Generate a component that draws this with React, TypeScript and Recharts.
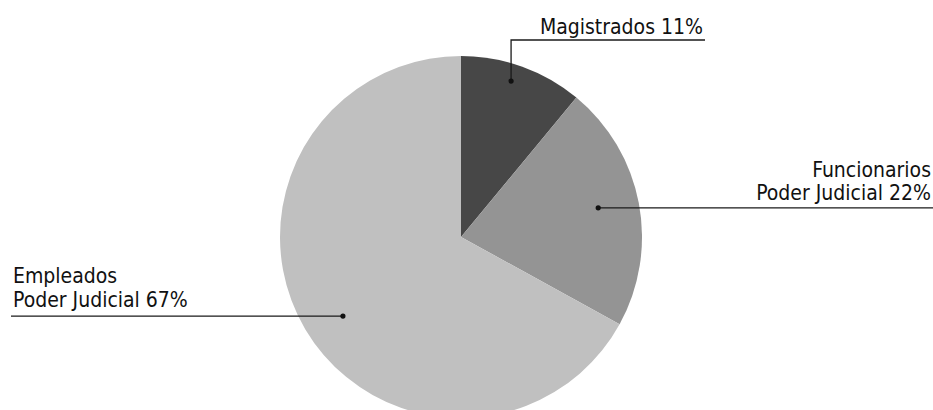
import React from "react";
import { PieChart, Pie, Cell } from "recharts";

const categories = ["Magistrados", "Funcionarios Poder Judicial", "Empleados Poder Judicial"];
const labelLines = [["Magistrados"], ["Funcionarios", "Poder Judicial"], ["Empleados", "Poder Judicial"]];
const shares = [11, 22, 67];

const colors = ["#474747", "#949494", "#c0c0c0"];

const data = categories.map((name, i) => ({ name, value: shares[i] }));

const RAD = Math.PI / 180;
const FONT = "'DejaVu Sans Condensed', 'DejaVu Sans', sans-serif";

// callout layout: dot radius (share of outer radius), small angle nudge, line end, text baselines above line
const callouts = [
  { r: 0.905, nudge: 2, kind: "up", lineY: 40, endX: 705, offsets: [-6] },
  { r: 0.775, nudge: 1.2, kind: "right", endX: 933, offsets: [-31, -8] },
  { r: 0.785, nudge: 3.2, kind: "left", endX: 11, offsets: [-33.5, -9.5] },
];

function renderLabel(props: any) {
  const { cx, cy, midAngle, outerRadius, index, value } = props;
  const c = callouts[index];
  const a = (midAngle + c.nudge) * RAD;
  const x = cx + outerRadius * c.r * Math.cos(-a);
  const y = cy + outerRadius * c.r * Math.sin(-a);
  const lines = labelLines[index].slice();
  lines[lines.length - 1] = `${lines[lines.length - 1]} ${value}%`;

  let points: string;
  let lineY: number;
  if (c.kind === "up") {
    lineY = c.lineY as number;
    points = `${x},${y} ${x},${lineY} ${c.endX},${lineY}`;
  } else {
    lineY = y;
    points = `${x},${y} ${c.endX},${y}`;
  }
  const anchor = c.kind === "left" ? "start" : "end";
  const tx = c.kind === "left" ? c.endX + 2 : c.endX - 2;

  return (
    <g key={`lbl-${index}`}>
      <polyline points={points} fill="none" stroke="#1a1a1a" strokeWidth={1.3} />
      <circle cx={x} cy={y} r={2.6} fill="#111" />
      {lines.map((t, i) => (
        <text
          key={i}
          x={tx}
          y={lineY + c.offsets[i]}
          textAnchor={anchor}
          fontFamily={FONT}
          fontStretch="condensed"
          fontSize={21}
          fill="#111"
        >
          {t}
        </text>
      ))}
    </g>
  );
}

export default function App() {
  return (
    <div style={{ width: 933, height: 410, background: "#fff" }}>
      <style>{`body { margin: 0; }`}</style>
      <PieChart width={933} height={410} margin={{ top: 0, right: 0, bottom: 0, left: 0 }}>
        <Pie
          data={data}
          dataKey="value"
          nameKey="name"
          cx={461}
          cy={237}
          outerRadius={181}
          startAngle={90}
          endAngle={-270}
          stroke="none"
          label={renderLabel}
          labelLine={false}
          isAnimationActive={false}
        >
          {data.map((d, i) => (
            <Cell key={d.name} fill={colors[i]} />
          ))}
        </Pie>
      </PieChart>
    </div>
  );
}
